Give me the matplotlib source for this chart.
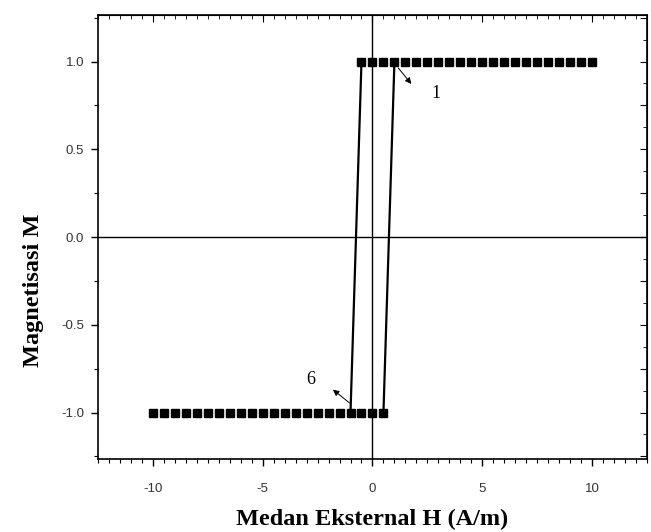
import matplotlib
matplotlib.use('Agg')
from matplotlib import pyplot as plt
from matplotlib.ticker import MultipleLocator

# Hysteresis loop data
# upper saturation branch (M = +1)
h_top = [-0.5, 0.0, 0.5, 1.0, 1.5, 2.0, 2.5, 3.0, 3.5, 4.0, 4.5,
         5.0, 5.5, 6.0, 6.5, 7.0, 7.5, 8.0, 8.5, 9.0, 9.5, 10.0]
m_top = [1.0] * len(h_top)

# lower saturation branch (M = -1)
h_bottom = [-10.0, -9.5, -9.0, -8.5, -8.0, -7.5, -7.0, -6.5, -6.0, -5.5, -5.0,
            -4.5, -4.0, -3.5, -3.0, -2.5, -2.0, -1.5, -1.0, -0.5, 0.0, 0.5]
m_bottom = [-1.0] * len(h_bottom)

# switching segments
h_drop = [-0.5, -1.0]
m_drop = [1.0, -1.0]
h_rise = [0.5, 1.0]
m_rise = [-1.0, 1.0]

x_ticks = [-10, -5, 0, 5, 10]
y_ticks = [-1.0, -0.5, 0.0, 0.5, 1.0]

fig = plt.figure(figsize=(6.51, 5.32), dpi=100)
ax = fig.add_axes([0.1505, 0.1372, 0.8433, 0.8346])

# zero lines
ax.axhline(0, color='black', lw=1.0, zorder=1)
ax.axvline(0, color='black', lw=1.0, zorder=1)

# switching lines
ax.plot(h_drop, m_drop, color='black', lw=1.6, zorder=2)
ax.plot(h_rise, m_rise, color='black', lw=1.6, zorder=2)

# square symbols
ax.plot(h_top, m_top, ls='none', marker='s', ms=6.2, color='black', zorder=3)
ax.plot(h_bottom, m_bottom, ls='none', marker='s', ms=6.2, color='black', zorder=3)

ax.set_xlim(-12.5, 12.5)
ax.set_ylim(-1.265, 1.265)

ax.set_xticks(x_ticks)
ax.set_yticks(y_ticks)
ax.set_xticklabels([str(v) for v in x_ticks])
ax.set_yticklabels(['%.1f' % v for v in y_ticks])
ax.xaxis.set_minor_locator(MultipleLocator(0.5))
ax.yaxis.set_minor_locator(MultipleLocator(0.25))

for lab in ax.get_xticklabels() + ax.get_yticklabels():
    lab.set_fontfamily('Liberation Sans')
    lab.set_fontsize(9.5)
    lab.set_color('#333333')

ax.tick_params(axis='x', which='major', direction='out', length=5, width=1.0, pad=12)
ax.tick_params(axis='x', which='minor', direction='out', length=3, width=0.8)
ax.tick_params(axis='y', which='major', direction='out', length=5, width=1.0, pad=5)
ax.tick_params(axis='y', which='minor', direction='out', length=3, width=0.8)

for sp in ax.spines.values():
    sp.set_linewidth(1.2)

# top and right axes with inward ticks
top = ax.secondary_xaxis('top')
top.set_xticks(x_ticks)
top.xaxis.set_minor_locator(MultipleLocator(0.5))
top.tick_params(which='major', direction='in', length=5, labeltop=False)
top.tick_params(which='minor', direction='in', length=3)
top.set_xticklabels([])

right = ax.secondary_yaxis('right')
right.yaxis.set_major_locator(MultipleLocator(0.25))
right.yaxis.set_minor_locator(MultipleLocator(0.125))
right.tick_params(which='major', direction='in', length=5, labelright=False)
right.tick_params(which='minor', direction='in', length=3)
right.set_yticklabels([])

# axis labels
ax.set_xlabel('Medan Eksternal H (A/m)', family='Liberation Serif',
              fontweight='bold', fontsize=17.5)
ax.set_ylabel('Magnetisasi M', family='Liberation Serif',
              fontweight='bold', fontsize=17.5)
ax.xaxis.set_label_coords(0.5, -0.112)
ax.yaxis.set_label_coords(-0.098, 0.38)

# curve labels with arrows
ax.annotate('', xy=(1.85, 0.86), xytext=(1.1, 0.975),
            arrowprops=dict(arrowstyle='-|>', color='black', lw=0.7,
                            mutation_scale=9))
ax.text(2.9, 0.82, '1', family='Liberation Serif', fontsize=13,
        ha='center', va='center')

ax.annotate('', xy=(-1.9, -0.86), xytext=(-0.95, -0.955),
            arrowprops=dict(arrowstyle='-|>', color='black', lw=0.7,
                            mutation_scale=9))
ax.text(-2.8, -0.81, '6', family='Liberation Serif', fontsize=13,
        ha='center', va='center')

fig.savefig('out.png', dpi=100)
